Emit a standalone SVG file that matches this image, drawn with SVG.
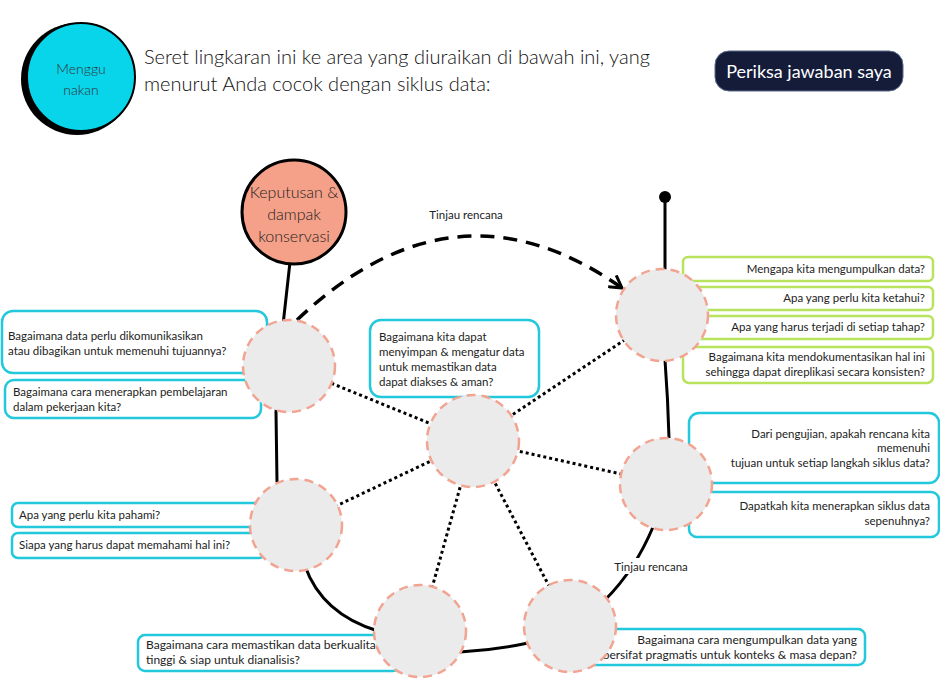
<svg xmlns="http://www.w3.org/2000/svg" width="940" height="693" viewBox="0 0 940 693">
<style>
.t{font-family:Lato,"Liberation Sans",sans-serif;fill:#222;}
.q{font-family:Lato,"Liberation Sans",sans-serif;font-size:11.5px;fill:#222;}
.q12{font-size:12px;}
.r{text-anchor:end;}
.bc{fill:#fff;stroke:#22c8dc;stroke-width:2.5;}
.bg{fill:#fff;stroke:#b8e35c;stroke-width:2.5;}
.node{fill:#ebebeb;stroke:#f2a492;stroke-width:2.5;stroke-dasharray:9 6;}
.dot{fill:none;stroke:#000;stroke-width:3;stroke-dasharray:3 3;}
.cyc{fill:none;stroke:#000;stroke-width:3;}
</style>
<defs>
<marker id="ah" viewBox="0 0 16 16" refX="13" refY="8" markerWidth="16" markerHeight="16" markerUnits="userSpaceOnUse" orient="auto">
<path d="M1,1 L13,8 L1,15" fill="none" stroke="#000" stroke-width="3"/>
</marker>
</defs>
<rect width="940" height="693" fill="#fff"/>

<g id="menggunakan">
<circle cx="77" cy="79" r="56" fill="#000"/>
<circle cx="81" cy="77" r="54" fill="#08d4ea" stroke="#000" stroke-width="2"/>
<text class="t" x="81" y="74" font-size="14" font-weight="300" text-anchor="middle" style="fill:#333">Menggu</text>
<text class="t" x="81" y="95" font-size="14" font-weight="300" text-anchor="middle" style="fill:#333">nakan</text>
</g>

<g id="title">
<text class="t" x="144" y="64" font-size="20" font-weight="300" style="fill:#111">Seret lingkaran ini ke area yang diuraikan di bawah ini, yang</text>
<text class="t" x="144" y="91" font-size="20" font-weight="300" style="fill:#111">menurut Anda cocok dengan siklus data:</text>
</g>

<g id="button">
<rect x="715" y="51" width="188" height="40" rx="14" fill="#141c3a" stroke="#5a6a8a" stroke-width="1"/>
<text class="t" x="809" y="78" font-size="18" text-anchor="middle" style="fill:#fff">Periksa jawaban saya</text>
</g>

<g id="connectors">
<path class="cyc" d="M290,262 L283,325 M283,325 L276,412 L277,482 M305,566 Q322,614 378,631 M460,652 Q495,650 528,643 M605,600 Q635,570 653,527 M669,438 Q668,400 665,360 M665,270 L665,197"/>
<circle cx="665" cy="197" r="6" fill="#000"/>
<path d="M297,320 Q455,170 622,288" fill="none" stroke="#000" stroke-width="3.5" stroke-dasharray="14 9" marker-end="url(#ah)"/>
<path class="dot" d="M473,441 L289,366 M473,441 L662,315 M473,441 L666,484 M473,441 L296,525 M473,441 L420,631 M473,441 L570,626"/>
<text class="q" x="466" y="219" text-anchor="middle">Tinjau rencana</text>
<rect x="611" y="558" width="80" height="16" fill="#fff"/>
<text class="q" x="651" y="571" text-anchor="middle">Tinjau rencana</text>
</g>

<g id="keputusan">
<circle cx="294" cy="212" r="52" fill="#f5a088" stroke="#000" stroke-width="3"/>
<text class="t" x="294" y="198" font-size="16" font-weight="300" text-anchor="middle" style="fill:#222">Keputusan &amp;</text>
<text class="t" x="294" y="220" font-size="16" font-weight="300" text-anchor="middle" style="fill:#222">dampak</text>
<text class="t" x="294" y="242" font-size="16" font-weight="300" text-anchor="middle" style="fill:#222">konservasi</text>
</g>

<g id="box-komunikasi">
<rect class="bc" x="2" y="311" width="265" height="62" rx="11"/>
<text class="q" x="8" y="340">Bagaimana data perlu dikomunikasikan</text>
<text class="q" x="8" y="355">atau dibagikan untuk memenuhi tujuannya?</text>
</g>
<g id="box-pembelajaran">
<rect class="bc" x="5" y="380" width="256" height="38" rx="9"/>
<text class="q" x="13" y="396">Bagaimana cara menerapkan pembelajaran</text>
<text class="q" x="13" y="411">dalam pekerjaan kita?</text>
</g>
<g id="box-simpan">
<rect class="bc" x="370" y="320" width="169" height="77" rx="11"/>
<text class="q" x="379" y="341">Bagaimana kita dapat</text>
<text class="q" x="379" y="356">menyimpan &amp; mengatur data</text>
<text class="q" x="379" y="371">untuk memastikan data</text>
<text class="q" x="379" y="386">dapat diakses &amp; aman?</text>
</g>
<g id="box-pahami">
<rect class="bc" x="12" y="503" width="253" height="24" rx="6"/>
<text class="q" x="19" y="519">Apa yang perlu kita pahami?</text>
</g>
<g id="box-siapa">
<rect class="bc" x="12" y="533" width="253" height="25" rx="6"/>
<text class="q" x="19" y="549">Siapa yang harus dapat memahami hal ini?</text>
</g>
<g id="box-kualitas">
<rect class="bc" x="138" y="635" width="262" height="36" rx="7"/>
<text class="q q12" x="146" y="649">Bagaimana cara memastikan data berkualitas</text>
<text class="q q12" x="146" y="664">tinggi &amp; siap untuk dianalisis?</text>
</g>
<g id="box-kumpul">
<rect class="bc" x="580" y="629" width="285" height="36" rx="7"/>
<text class="q q12 r" x="857" y="644">Bagaimana cara mengumpulkan data yang</text>
<text class="q q12 r" x="857" y="659">bersifat pragmatis untuk konteks &amp; masa depan?</text>
</g>
<g id="box-mengapa">
<rect class="bg" x="683" y="257" width="250" height="24" rx="5"/>
<text class="q r" x="925" y="273">Mengapa kita mengumpulkan data?</text>
</g>
<g id="box-ketahui">
<rect class="bg" x="683" y="287" width="250" height="23" rx="5"/>
<text class="q r" x="925" y="302">Apa yang perlu kita ketahui?</text>
</g>
<g id="box-tahap">
<rect class="bg" x="683" y="316" width="250" height="23" rx="5"/>
<text class="q r" x="925" y="331">Apa yang harus terjadi di setiap tahap?</text>
</g>
<g id="box-dokumentasi">
<rect class="bg" x="683" y="347" width="250" height="36" rx="6"/>
<text class="q r" x="925" y="361">Bagaimana kita mendokumentasikan hal ini</text>
<text class="q r" x="925" y="376">sehingga dapat direplikasi secara konsisten?</text>
</g>
<g id="box-pengujian">
<rect class="bc" x="689" y="413" width="250" height="70" rx="10"/>
<text class="q r" x="930" y="438">Dari pengujian, apakah rencana kita</text>
<text class="q r" x="930" y="452">memenuhi</text>
<text class="q r" x="930" y="467">tujuan untuk setiap langkah siklus data?</text>
</g>
<g id="box-dapatkah">
<rect class="bc" x="689" y="492" width="250" height="45" rx="8"/>
<text class="q r" x="930" y="510">Dapatkah kita menerapkan siklus data</text>
<text class="q r" x="930" y="525">sepenuhnya?</text>
</g>

<g id="node-a"><circle class="node" cx="289" cy="366" r="46"/></g>
<g id="node-center"><circle class="node" cx="473" cy="441" r="46"/></g>
<g id="node-f"><circle class="node" cx="662" cy="315" r="46"/></g>
<g id="node-e"><circle class="node" cx="666" cy="484" r="46"/></g>
<g id="node-b"><circle class="node" cx="296" cy="525" r="46"/></g>
<g id="node-c"><circle class="node" cx="420" cy="631" r="46"/></g>
<g id="node-d"><circle class="node" cx="570" cy="626" r="46"/></g>
</svg>
